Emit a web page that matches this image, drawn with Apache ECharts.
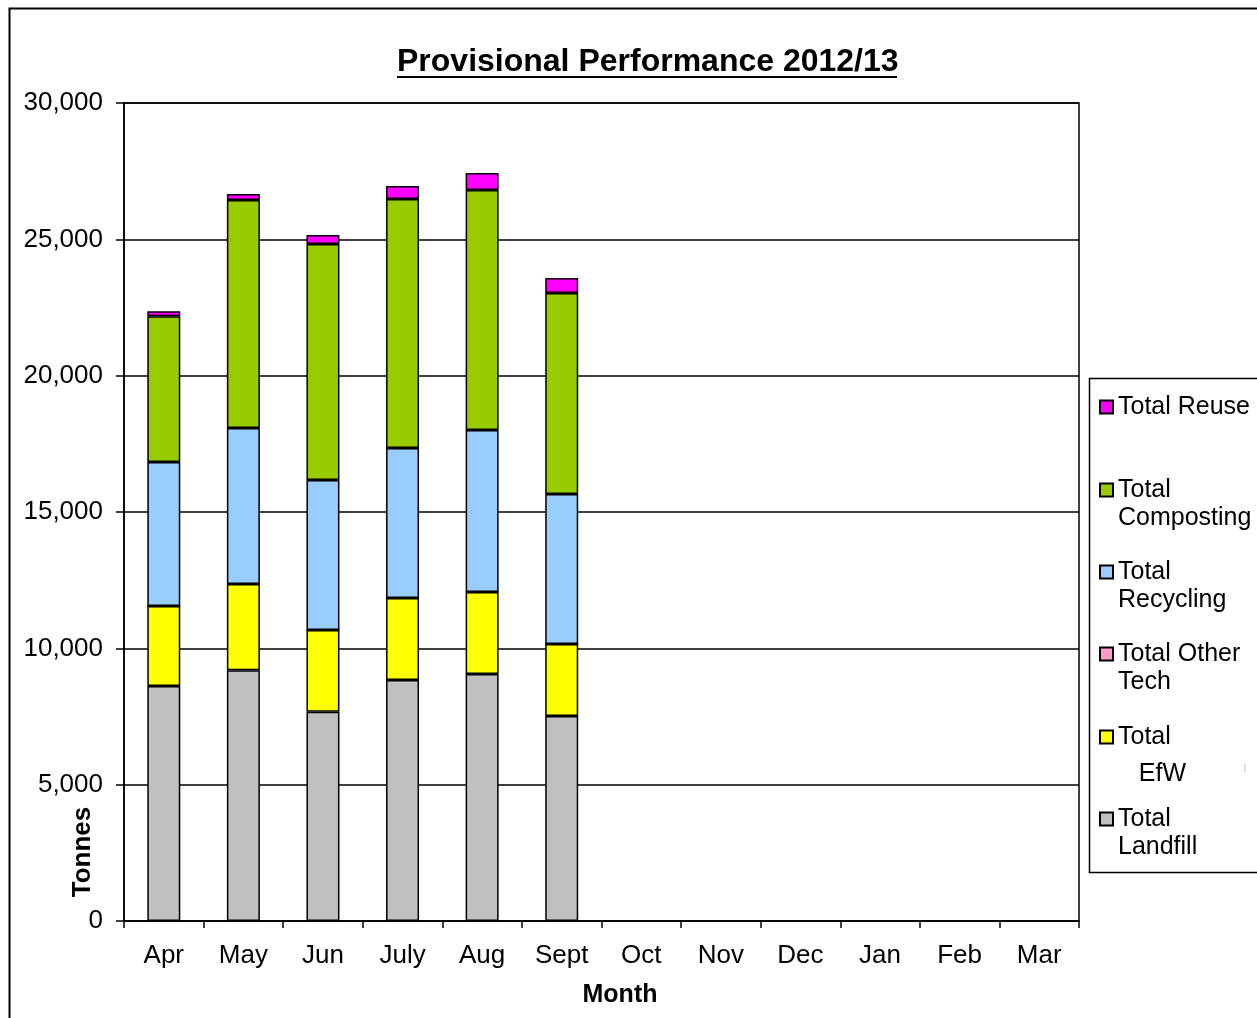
<!DOCTYPE html>
<html>
<head>
<meta charset="utf-8">
<title>Provisional Performance 2012/13</title>
<script src="https://cdn.jsdelivr.net/npm/echarts@6/dist/echarts.min.js"></script>
<style>
    html, body { margin: 0; padding: 0; background: #fff; }
    #main { width: 1257px; height: 1018px; }
</style>
</head>
<body>
<div id="main"></div>
<script>
// months on the x axis
var months = ['Apr','May','Jun','July','Aug','Sept','Oct','Nov','Dec','Jan','Feb','Mar'];

// tonnes per month (blank months have no data yet)
var landfill   = [8620, 9200, 7670, 8840, 9060, 7520, null, null, null, null, null, null];
var efw        = [2930, 3160, 3000, 3010, 3010, 2640, null, null, null, null, null, null];
var otherTech  = [0, 0, 0, 0, 0, 0, null, null, null, null, null, null];
var recycling  = [5280, 5720, 5500, 5500, 5940, 5500, null, null, null, null, null, null];
var composting = [5350, 8360, 8660, 9130, 8800, 7370, null, null, null, null, null, null];
var reuse      = [180, 220, 330, 480, 620, 550, null, null, null, null, null, null];

var yTicks = [0, 5000, 10000, 15000, 20000, 25000, 30000];

(function () {

    var FONT = "'Liberation Sans', Arial, sans-serif";
    var myChart = echarts.init(document.getElementById('main'));

    function bar(name, data, color) {
        return {
            name: name,
            type: 'bar',
            stack: 'total',
            barWidth: 33,
            data: data,
            itemStyle: { color: color, borderColor: '#000', borderWidth: 1.5 }
        };
    }

    // legend: one small block per series, icon lined up with the first text line
    var legendItems = [
        { name: 'Total Reuse',      lines: ['Total Reuse', ' '],         y: 407, lh: 28 },
        { name: 'Total Composting', lines: ['Total', 'Composting'],      y: 490, lh: 28 },
        { name: 'Total Recycling',  lines: ['Total', 'Recycling'],       y: 572, lh: 28 },
        { name: 'Total Other Tech', lines: ['Total Other', 'Tech'],      y: 654, lh: 28 },
        { name: 'Total EfW',        lines: ['Total', '\u00a0\u00a0\u00a0EfW'], y: 737, lh: 37 },
        { name: 'Total Landfill',   lines: ['Total', 'Landfill'],        y: 819, lh: 28 }
    ];
    var legends = legendItems.map(function (it) {
        return {
            data: [it.name],
            left: 1099,
            top: it.y - 1.5 * it.lh,
            padding: 0,
            itemWidth: 13,
            itemHeight: 13,
            itemGap: 0,
            icon: 'rect',
            selectedMode: false,
            formatter: function () { return ' \n' + it.lines[0] + '\n' + it.lines[1]; },
            textStyle: { fontFamily: FONT, fontSize: 25, color: '#000', lineHeight: it.lh }
        };
    });

    var option = {
        backgroundColor: '#fff',
        animation: false,
        title: {
            text: 'Provisional Performance 2012/13',
            left: 397,
            top: 46,
            padding: 0,
            textStyle: { fontFamily: FONT, fontSize: 32, fontWeight: 'bold', color: '#000' }
        },
        legend: legends,
        grid: {
            left: 124,
            right: 178,
            top: 103,
            bottom: 97,
            show: true,
            borderColor: '#000',
            borderWidth: 1.5
        },
        xAxis: {
            type: 'category',
            data: months,
            axisLine: { lineStyle: { color: '#000', width: 1.5 } },
            axisTick: { show: true, length: 7, lineStyle: { color: '#000', width: 1.5 } },
            axisLabel: { fontFamily: FONT, fontSize: 26, color: '#000', margin: 22 }
        },
        yAxis: {
            type: 'value',
            min: yTicks[0],
            max: yTicks[yTicks.length - 1],
            interval: yTicks[1] - yTicks[0],
            axisLine: { show: true, lineStyle: { color: '#000', width: 1.5 } },
            axisTick: { show: true, length: 8, lineStyle: { color: '#000', width: 1.5 } },
            axisLabel: {
                fontFamily: FONT, fontSize: 26, color: '#000', margin: 21,
                formatter: function (v) { return v.toLocaleString('en-GB'); }
            },
            splitLine: { lineStyle: { color: '#000', width: 1.5 } }
        },
        series: [
            bar('Total Landfill', landfill, '#C0C0C0'),
            bar('Total EfW', efw, '#FFFF00'),
            bar('Total Other Tech', otherTech, '#FF99CC'),
            bar('Total Recycling', recycling, '#99CCFF'),
            bar('Total Composting', composting, '#99CC00'),
            bar('Total Reuse', reuse, '#FF00FF')
        ],
        graphic: [
            // outer chart frame
            { type: 'rect', silent: true, z: -1,
              shape: { x: 9.5, y: 8.5, width: 1300, height: 1100 },
              style: { fill: 'none', stroke: '#000', lineWidth: 2 } },
            // legend frame
            { type: 'rect', silent: true,
              shape: { x: 1089.5, y: 378.5, width: 200, height: 494 },
              style: { fill: '#fff', stroke: '#000', lineWidth: 1.5 }, z: -1 },
            { type: 'line', silent: true,
              shape: { x1: 1245, y1: 764, x2: 1245, y2: 772 },
              style: { stroke: '#bbb', lineWidth: 1 } },
            // title underline
            { type: 'line', silent: true,
              shape: { x1: 397, y1: 77, x2: 897, y2: 77 },
              style: { stroke: '#000', lineWidth: 2 } },
            // axis names
            { type: 'text', silent: true, x: 83, y: 852, rotation: Math.PI / 2,
              style: { text: 'Tonnes', font: 'bold 26px ' + FONT, fill: '#000',
                       align: 'center', verticalAlign: 'middle' } },
            { type: 'text', silent: true, x: 620, y: 995,
              style: { text: 'Month', font: 'bold 25px ' + FONT, fill: '#000',
                       align: 'center', verticalAlign: 'middle' } }
        ]
    };

    myChart.setOption(option);

})();
</script>
</body>
</html>
